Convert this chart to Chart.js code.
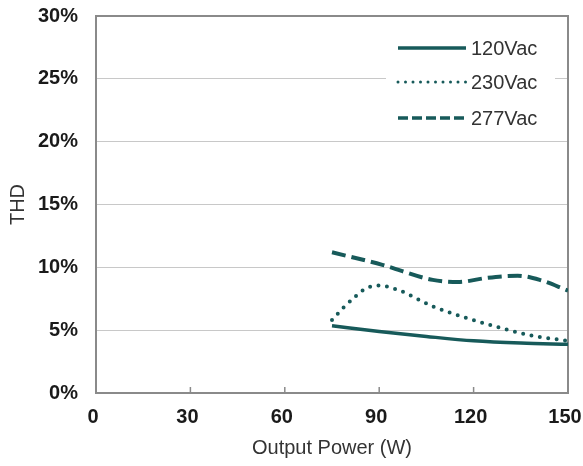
<!DOCTYPE html>
<html>
<head>
<meta charset="utf-8">
<script src="https://cdn.jsdelivr.net/npm/chart.js@4.4.1/dist/chart.umd.min.js"></script>
<style>
  html, body { margin: 0; padding: 0; background: #fff; }
  #wrap { width: 583px; height: 466px; }
</style>
</head>
<body>
<div id="wrap"><canvas id="thdChart" width="583" height="466"></canvas></div>
<script>
// --- Data ---
const seriesNames = ['120Vac', '230Vac', '277Vac'];
const yTicks = [0, 5, 10, 15, 20, 25, 30];
const xTicks = [0, 30, 60, 90, 120, 150];

const thd120 = [
    { x: 75, y: 5.35 }, { x: 90, y: 4.9 }, { x: 105, y: 4.5 },
    { x: 120, y: 4.15 }, { x: 135, y: 3.97 }, { x: 150, y: 3.88 }
];
const thd230 = [
    { x: 75, y: 5.8 }, { x: 78.5, y: 6.75 }, { x: 83, y: 7.8 }, { x: 86, y: 8.35 },
    { x: 90, y: 8.55 }, { x: 96, y: 8.2 }, { x: 107, y: 6.9 }, { x: 118, y: 5.95 },
    { x: 129, y: 5.15 }, { x: 139, y: 4.55 }, { x: 150, y: 4.15 }
];
const thd277 = [
    { x: 75, y: 11.2 }, { x: 91, y: 10.2 }, { x: 107, y: 9.0 }, { x: 115, y: 8.83 },
    { x: 124, y: 9.15 }, { x: 134, y: 9.33 }, { x: 141, y: 9.0 }, { x: 150, y: 8.15 }
];

const lineColor = '#175a5a';
const fontFamily = "'Liberation Sans', Arial, sans-serif";

// frame round the plot plus the inward x tick marks
const framePlugin = {
    id: 'frame',
    beforeDatasetsDraw(chart) {
        const { ctx, chartArea: a, scales } = chart;
        ctx.save();
        ctx.strokeStyle = '#8a8a8a';
        ctx.lineWidth = 2;
        ctx.strokeRect(a.left, a.top, a.right - a.left, a.bottom - a.top);
        ctx.lineWidth = 1.5;
        xTicks.slice(1, -1).forEach(v => {
            const px = scales.x.getPixelForValue(v);
            ctx.beginPath();
            ctx.moveTo(px, a.bottom);
            ctx.lineTo(px, a.bottom - 6);
            ctx.stroke();
        });
        ctx.restore();
    }
};

// legend box in the top right corner of the plot
const legendPlugin = {
    id: 'insideLegend',
    afterDatasetsDraw(chart) {
        const { ctx } = chart;
        const rows = [48, 82, 118];
        const legendDash = [[], [0, 7.5], [10, 4]];
        ctx.save();
        ctx.fillStyle = '#fff';
        ctx.fillRect(386, 30, 169, 104);
        chart.data.datasets.forEach((ds, i) => {
            const y = rows[i];
            ctx.strokeStyle = ds.borderColor;
            ctx.lineWidth = i === 1 ? 3 : 3.5;
            ctx.lineCap = i === 1 ? 'round' : 'butt';
            ctx.setLineDash(legendDash[i]);
            ctx.beginPath();
            ctx.moveTo(398, y);
            ctx.lineTo(466, y);
            ctx.stroke();
            ctx.setLineDash([]);
            ctx.fillStyle = '#333';
            ctx.font = '20px ' + fontFamily;
            ctx.textBaseline = 'middle';
            ctx.fillText(ds.label, 471, y + 1);
        });
        ctx.restore();
    }
};

new Chart(document.getElementById('thdChart').getContext('2d'), {
    type: 'line',
    data: {
        datasets: [
            {
                label: seriesNames[0], data: thd120,
                borderColor: lineColor, borderWidth: 3.5,
                pointRadius: 0, cubicInterpolationMode: 'monotone'
            },
            {
                label: seriesNames[1], data: thd230,
                borderColor: lineColor, borderWidth: 4, borderDash: [0, 8.5],
                borderCapStyle: 'round',
                pointRadius: 0, cubicInterpolationMode: 'monotone'
            },
            {
                label: seriesNames[2], data: thd277,
                borderColor: lineColor, borderWidth: 4, borderDash: [14, 6],
                pointRadius: 0, cubicInterpolationMode: 'monotone'
            }
        ]
    },
    options: {
        responsive: false,
        animation: false,
        layout: { padding: { top: 16, right: 15, left: 0, bottom: 0 } },
        plugins: { legend: { display: false }, tooltip: { enabled: false } },
        scales: {
            x: {
                type: 'linear', min: 0, max: 150,
                afterBuildTicks(scale) { scale.ticks = xTicks.map(v => ({ value: v })); },
                afterFit(scale) {
                    scale.height = 73;
                    scale.paddingLeft = 0;
                    scale.paddingRight = 0;
                },
                grid: { display: false },
                border: { display: false },
                ticks: {
                    padding: 4, labelOffset: -3, maxRotation: 0,
                    color: '#1a1a1a', font: { family: fontFamily, size: 20, weight: 'bold' }
                },
                title: {
                    display: true, text: 'Output Power (W)', color: '#333',
                    padding: { top: 6, bottom: 6 },
                    font: { family: fontFamily, size: 20 }
                }
            },
            y: {
                min: 0, max: 30,
                afterBuildTicks(scale) { scale.ticks = yTicks.map(v => ({ value: v })); },
                afterFit(scale) {
                    scale.width = 96;
                    scale.paddingTop = 0;
                    scale.paddingBottom = 0;
                },
                grid: { color: '#c8c8c8', lineWidth: 1, drawTicks: false },
                border: { display: false },
                ticks: {
                    padding: 18, color: '#1a1a1a',
                    font: { family: fontFamily, size: 20, weight: 'bold' },
                    callback: v => v + '%'
                },
                title: {
                    display: true, text: 'THD', color: '#333',
                    padding: { top: 6, bottom: 6 },
                    font: { family: fontFamily, size: 20 }
                }
            }
        }
    },
    plugins: [framePlugin, legendPlugin]
});
</script>
</body>
</html>
